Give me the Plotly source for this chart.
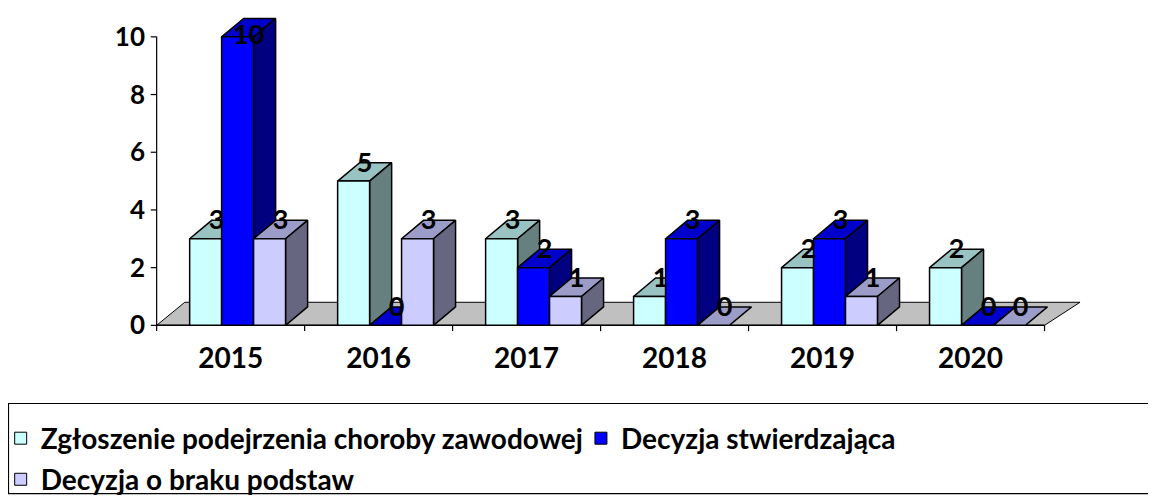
import plotly.graph_objects as go

# ---- data ----
categories = ["2015", "2016", "2017", "2018", "2019", "2020"]
series_names = [
    "Zgłoszenie podejrzenia choroby zawodowej",
    "Decyzja stwierdzająca",
    "Decyzja o braku podstaw",
]
zgloszenie = [3, 5, 3, 1, 2, 2]
stwierdzajaca = [10, 0, 2, 3, 3, 0]
brak_podstaw = [3, 3, 1, 0, 1, 0]
y_ticks = [0, 2, 4, 6, 8, 10]

series_values = [zgloszenie, stwierdzajaca, brak_podstaw]

# ---- styling ----
front_colors = ["#CCFFFF", "#0000FF", "#CCCCFF"]
top_colors = ["#99C2C2", "#0000CC", "#9C9CC8"]
side_colors = ["#668080", "#000080", "#666680"]
legend_slots = ["legend", "legend", "legend2"]
FONT = "Lato"

BAR_W = 0.216       # width of one bar (category units)
GROUP_LEFT = 0.223  # offset of first bar from category boundary
DX = 0.149          # depth offset x
DY = 0.64           # depth offset y
LW = 1.5

fig = go.Figure()


def poly(xs, ys, fill, width=LW):
    fig.add_trace(go.Scatter(
        x=xs + [xs[0]], y=ys + [ys[0]], mode="lines", fill="toself",
        fillcolor=fill, line=dict(color="black", width=width),
        hoverinfo="skip", showlegend=False))


def line(xs, ys, width=LW):
    fig.add_trace(go.Scatter(
        x=xs, y=ys, mode="lines", line=dict(color="black", width=width),
        hoverinfo="skip", showlegend=False))


n = len(categories)
x_lo, x_hi = -0.5, n - 0.5
y_top = max(y_ticks)

# floor
poly([x_lo, x_hi, x_hi + 0.24, x_lo + 0.19], [0, 0, 0.8, 0.8], "#C0C0C0", 1)

# axes drawn in data space
line([x_lo, x_hi], [0, 0])
tx, ty = [], []
for b in range(n + 1):
    tx += [x_lo + b, x_lo + b, None]
    ty += [0, -0.2, None]
line(tx, ty, 1.2)
line([x_lo, x_lo], [0, y_top], 1.2)
yx, yy = [], []
for t in y_ticks:
    yx += [x_lo, x_lo - 0.04, None]
    yy += [t, t, None]
line(yx, yy, 1.2)

# bars (pseudo 3D)
lab_x = [[] for _ in series_values]
lab_y = [[] for _ in series_values]
for i in range(n):
    for j, vals in enumerate(series_values):
        v = vals[i]
        x0 = i - 0.5 + GROUP_LEFT + j * BAR_W
        x1 = x0 + BAR_W
        poly([x0, x1, x1 + DX, x0 + DX], [v, v, v + DY, v + DY], top_colors[j])
        if v > 0:
            poly([x1, x1 + DX, x1 + DX, x1], [0, DY, v + DY, v], side_colors[j])
            poly([x0, x1, x1, x0], [0, 0, v, v], front_colors[j])
        lab_x[j].append((x0 + x1) / 2 + DX / 2)
        lab_y[j].append(min(v + 0.56, y_top))

for j, vals in enumerate(series_values):
    fig.add_trace(go.Scatter(
        x=lab_x[j], y=lab_y[j], text=[str(v) for v in vals], mode="text",
        textposition="middle center",
        textfont=dict(family=FONT, size=27, color="black", weight="bold"),
        hoverinfo="skip", showlegend=False, cliponaxis=False))

# legend entries
for j, name in enumerate(series_names):
    fig.add_trace(go.Bar(
        x=[None], y=[None], name=name, legend=legend_slots[j],
        marker=dict(color=front_colors[j], line=dict(color="black", width=1))))

# ---- layout (figure is offset by the 8px page margin) ----
FIG_W, FIG_H = 1148, 488
PAGE = 8
L, W_PLOT = 150.34 - PAGE, 933.14
T, H_PLOT = 0.2, 325.44


def px_x(p):
    return (p - PAGE - L) / W_PLOT


def px_y(p):
    return (T + H_PLOT - (p - PAGE)) / H_PLOT


legend_style = dict(orientation="h", xanchor="left", yanchor="top",
                    font=dict(family=FONT, size=28, weight="bold"), indentation=-7,
                    bgcolor="rgba(0,0,0,0)", borderwidth=0, itemclick=False)

fig.update_layout(
    width=FIG_W, height=FIG_H,
    margin=dict(l=L, r=FIG_W - L - W_PLOT, t=T, b=FIG_H - T - H_PLOT, autoexpand=False),
    paper_bgcolor="white", plot_bgcolor="white",
    font=dict(family=FONT, color="black", weight="bold"),
    xaxis=dict(range=[-0.545, 5.76], showgrid=False, zeroline=False, showline=False,
               tickvals=list(range(n)), ticktext=categories, ticks="",
               tickfont=dict(family=FONT, size=28, weight="bold"),
               ticklabelstandoff=5),
    yaxis=dict(range=[-0.3, 11.0], showgrid=False, zeroline=False, showline=False,
               tickvals=y_ticks, ticks="", ticklabelstandoff=4,
               tickfont=dict(family=FONT, size=26, weight="bold")),
    showlegend=True,
    legend=dict(x=px_x(PAGE), y=px_y(413), **legend_style),
    legend2=dict(x=px_x(PAGE), y=px_y(454), **legend_style),
    shapes=[dict(type="rect", xref="paper", yref="paper",
                 x0=px_x(PAGE + 0.8), x1=px_x(1150), y0=px_y(493), y1=px_y(403),
                 line=dict(color="black", width=1.2), fillcolor="rgba(0,0,0,0)")],
)

fig.write_html("out.html")
